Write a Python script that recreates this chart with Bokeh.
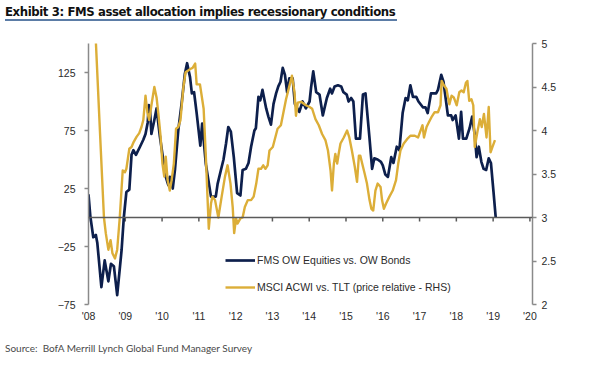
from bokeh.plotting import figure
from bokeh.models import (Range1d, LinearAxis, FixedTicker, Span, Legend, LegendItem,
                          ColumnDataSource, Div, CustomJSTickFormatter)
from bokeh.layouts import column
from bokeh.embed import file_html
from bokeh.resources import INLINE

# ---------------- data ----------------
fms_year = [
    2008.00, 2008.05, 2008.13, 2008.20, 2008.24, 2008.35, 2008.44, 2008.54, 2008.61, 2008.69, 2008.78, 2008.90, 2008.96,
    2009.03, 2009.11, 2009.17, 2009.22, 2009.29, 2009.40, 2009.49, 2009.55, 2009.61, 2009.64, 2009.67, 2009.71, 2009.79, 2009.85, 2009.94,
    2010.03, 2010.10, 2010.17, 2010.21, 2010.29, 2010.35, 2010.44, 2010.53, 2010.62, 2010.68, 2010.76, 2010.81, 2010.87, 2010.94,
    2011.04, 2011.09, 2011.19, 2011.33, 2011.46, 2011.51, 2011.60, 2011.67, 2011.74, 2011.80, 2011.87, 2011.95,
    2012.04, 2012.13, 2012.19, 2012.28, 2012.35, 2012.42, 2012.51, 2012.55, 2012.62, 2012.67, 2012.73, 2012.83, 2012.89, 2012.96,
    2013.03, 2013.10, 2013.16, 2013.22, 2013.28, 2013.34, 2013.40, 2013.46, 2013.55, 2013.61, 2013.73, 2013.82, 2013.91,
    2014.01, 2014.05, 2014.11, 2014.19, 2014.28, 2014.37, 2014.48, 2014.57, 2014.62, 2014.69, 2014.78, 2014.87, 2014.93,
    2015.02, 2015.07, 2015.14, 2015.20, 2015.27, 2015.38, 2015.46, 2015.53, 2015.64, 2015.71, 2015.77, 2015.86, 2015.95,
    2016.00, 2016.07, 2016.14, 2016.23, 2016.29, 2016.38, 2016.45, 2016.54, 2016.62, 2016.68, 2016.75, 2016.82, 2016.91, 2016.97,
    2017.09, 2017.16, 2017.22, 2017.31, 2017.45, 2017.50, 2017.59, 2017.65, 2017.77, 2017.86, 2017.90, 2017.98,
    2018.07, 2018.13, 2018.18, 2018.27, 2018.36, 2018.43, 2018.50, 2018.55, 2018.61, 2018.68, 2018.74, 2018.81, 2018.88, 2018.94,
    2019.01, 2019.07]
fms_value = [
    20, 1, -17, -15, -22, -60, -37, -55, -40, -42, -67, -28, 0,
    22, 24, 54, 58, 54, 61, 67, 72, 82, 97, 94, 72, 84, 94, 70,
    50, 35, 28, 35, 25, 41, 75, 98, 124, 133, 121, 107, 108, 90,
    62, 81, 46, 18, 18, 29, 41, 50, 64, 78, 74, 52,
    21, 19, 41, 42, 47, 61, 75, 77, 104, 101, 110, 94, 87, 80,
    98, 107, 113, 117, 129, 123, 108, 120, 120, 98, 91, 100, 94,
    100, 112, 126, 108, 106, 88, 103, 111, 107, 113, 114, 113, 108,
    106, 100, 103, 100, 68, 68, 106, 107, 68, 42, 51, 50, 48,
    45, 37, 35, 52, 47, 61, 58, 90, 103, 101, 114, 104, 104, 100,
    95, 95, 90, 107, 107, 110, 123, 117, 88, 88, 84, 88,
    68, 91, 68, 68, 77, 87, 71, 52, 61, 48, 42, 41, 51, 47,
    22, 0]

msci_year = [
    2008.17, 2008.31, 2008.42, 2008.47, 2008.54, 2008.60, 2008.65, 2008.72, 2008.78, 2008.85, 2008.93, 2008.99,
    2009.03, 2009.11, 2009.17, 2009.23, 2009.31, 2009.38, 2009.44, 2009.49, 2009.55, 2009.60, 2009.65, 2009.71, 2009.79, 2009.85, 2009.90, 2009.96,
    2010.01, 2010.06, 2010.10, 2010.15, 2010.21, 2010.26, 2010.32, 2010.38, 2010.44, 2010.50, 2010.58, 2010.64, 2010.71, 2010.78, 2010.83, 2010.90, 2010.94,
    2011.03, 2011.13, 2011.19, 2011.27, 2011.33, 2011.37, 2011.44, 2011.53, 2011.62, 2011.71, 2011.78, 2011.86, 2011.92, 2011.96,
    2012.01, 2012.05, 2012.13, 2012.19, 2012.25, 2012.33, 2012.42, 2012.49, 2012.56, 2012.62, 2012.69, 2012.75, 2012.81, 2012.87, 2012.92,
    2013.01, 2013.14, 2013.23, 2013.37, 2013.46, 2013.53, 2013.60, 2013.64, 2013.69, 2013.78, 2013.91,
    2014.01, 2014.08, 2014.17, 2014.26, 2014.35, 2014.44, 2014.51, 2014.58, 2014.62, 2014.67, 2014.71, 2014.76, 2014.80, 2014.85, 2014.94,
    2015.03, 2015.09, 2015.16, 2015.24, 2015.30, 2015.35, 2015.39, 2015.44, 2015.51, 2015.57, 2015.64, 2015.69, 2015.74, 2015.80, 2015.86, 2015.94, 2015.98,
    2016.03, 2016.09, 2016.18, 2016.27, 2016.36, 2016.42, 2016.48, 2016.57, 2016.66, 2016.75, 2016.87, 2016.96,
    2017.08, 2017.12, 2017.19, 2017.26, 2017.32, 2017.41, 2017.50, 2017.57, 2017.60, 2017.66, 2017.73, 2017.81, 2017.87, 2017.93,
    2018.01, 2018.08, 2018.14, 2018.20, 2018.26, 2018.30, 2018.35, 2018.41, 2018.46, 2018.50, 2018.57, 2018.64, 2018.69, 2018.75, 2018.82, 2018.88, 2018.93, 2018.98,
    2019.05]
msci_value = [
    5.30, 4.00, 3.00, 2.82, 2.63, 2.74, 2.59, 2.53, 2.63, 3.00, 3.54, 3.52,
    3.56, 3.79, 3.81, 3.87, 3.93, 3.97, 4.04, 4.12, 4.40, 4.21, 4.12, 4.29, 4.50, 4.38, 4.19, 3.93,
    3.62, 3.47, 3.70, 3.43, 3.31, 3.43, 3.62, 4.02, 4.04, 4.12, 4.50, 4.67, 4.69, 4.71, 4.72, 4.77, 4.53,
    4.53, 4.25, 3.70, 2.87, 3.16, 3.24, 3.20, 3.00, 3.24, 3.47, 3.60, 3.39, 3.12, 2.82,
    2.99, 2.93, 2.99, 3.00, 3.12, 3.20, 3.20, 3.24, 3.39, 3.56, 3.56, 3.60, 3.56, 3.60, 3.77,
    3.81, 4.02, 4.06, 4.36, 4.51, 4.63, 4.44, 4.17, 4.32, 4.33, 4.29,
    4.27, 4.25, 4.13, 4.06, 3.96, 3.89, 3.77, 3.54, 3.31, 3.62, 3.73, 3.62, 3.73, 3.85, 3.92,
    4.00, 3.92, 3.77, 3.58, 3.41, 3.71, 3.71, 3.62, 3.50, 3.39, 3.20, 3.10, 3.08, 3.31, 3.39, 3.35, 3.20,
    3.10, 3.16, 3.24, 3.31, 3.43, 3.62, 3.77, 3.85, 3.90, 3.94, 3.94, 3.92,
    4.06, 3.92, 4.04, 4.10, 4.15, 4.21, 4.21, 4.29, 4.57, 4.52, 4.48, 4.30, 4.40, 4.38,
    4.29, 4.44, 4.46, 4.44, 4.55, 4.57, 4.34, 4.36, 4.29, 3.81, 3.98, 4.13, 4.04, 4.19, 3.92, 4.27, 3.75, 3.81,
    3.89]

x_ticks = [2008, 2009, 2010, 2011, 2012, 2013, 2014, 2015, 2016, 2017, 2018, 2019, 2020]
x_tick_labels = ["'08", "'09", "'10", "'11", "'12", "'13", "'14", "'15", "'16", "'17", "'18", "'19", "'20"]
left_ticks = [-75, -25, 25, 75, 125]
right_ticks = [2, 2.5, 3, 3.5, 4, 4.5, 5]

title_text = "Exhibit 3: FMS asset allocation implies recessionary conditions"
source_text = "Source:&nbsp; BofA Merrill Lynch Global Fund Manager Survey"
fms_label = "FMS OW Equities vs. OW Bonds"
msci_label = "MSCI ACWI vs. TLT (price relative - RHS)"

NAVY = "#0d1f4c"
GOLD = "#dcae38"
AXIS = "#8a8a8a"
ZERO = "#5a5a5a"
TXT = "#2b2b2b"
FONT = "'Liberation Sans', Arial, sans-serif"

# ---------------- figure ----------------
p = figure(width=581, height=309, x_range=Range1d(2008, 2020.07), y_range=Range1d(-75, 150),
           output_backend="svg", toolbar_location=None, title=None,
           min_border_left=88, min_border_right=49, min_border_top=17, min_border_bottom=31,
           x_axis_location="below", y_axis_location="left")
p.outline_line_color = None
p.grid.visible = False
p.background_fill_color = "white"
p.border_fill_color = "white"
p.extra_y_ranges = {"rhs": Range1d(2, 5)}

# left axis
ya = p.yaxis[0]
ya.ticker = FixedTicker(ticks=left_ticks)
ya.axis_line_color = AXIS
ya.axis_line_width = 1.5
ya.major_tick_line_color = AXIS
ya.major_tick_line_width = 1.5
ya.major_tick_out = 4
ya.major_tick_in = 0
ya.minor_tick_line_color = None
ya.major_label_standoff = 9
ya.major_label_text_font = FONT
ya.major_label_text_font_size = "10.5px"
ya.major_label_text_color = TXT

# right axis
ra = LinearAxis(y_range_name="rhs", ticker=FixedTicker(ticks=right_ticks),
                formatter=CustomJSTickFormatter(code="return String(tick);"))
ra.axis_line_color = AXIS
ra.axis_line_width = 1.5
ra.major_tick_line_color = AXIS
ra.major_tick_line_width = 1.5
ra.major_tick_out = 4
ra.major_tick_in = 0
ra.minor_tick_line_color = None
ra.major_label_standoff = 5
ra.major_label_text_font = FONT
ra.major_label_text_font_size = "10.5px"
ra.major_label_text_color = TXT
p.add_layout(ra, "right")

# bottom axis: labels only (the axis line sits on the zero line)
xa = p.xaxis[0]
xa.ticker = FixedTicker(ticks=x_ticks)
xa.major_label_overrides = {t: l for t, l in zip(x_ticks, x_tick_labels)}
xa.axis_line_color = None
xa.major_tick_line_color = None
xa.major_tick_out = 0
xa.major_tick_in = 0
xa.minor_tick_line_color = None
xa.minor_tick_out = 0
xa.major_label_standoff = 5
xa.major_label_text_font = FONT
xa.major_label_text_font_size = "10.5px"
xa.major_label_text_color = TXT

# zero line with ticks
p.add_layout(Span(location=0, dimension="width", line_color=ZERO, line_width=1.5))
tick_src = ColumnDataSource(dict(x=x_ticks, y0=[0] * len(x_ticks), y1=[-3.5] * len(x_ticks)))
p.segment(x0="x", y0="y0", x1="x", y1="y1", source=tick_src, line_color=ZERO, line_width=1.5)

# series
fms_src = ColumnDataSource(dict(x=fms_year, y=fms_value))
msci_src = ColumnDataSource(dict(x=msci_year, y=msci_value))
r_fms = p.line("x", "y", source=fms_src, line_color=NAVY, line_width=2.7, line_join="round")
r_msci = p.line("x", "y", source=msci_src, line_color=GOLD, line_width=2.4, line_join="round",
                y_range_name="rhs")

legend = Legend(items=[LegendItem(label=fms_label, renderers=[r_fms]),
                       LegendItem(label=msci_label, renderers=[r_msci])],
                location=(137, 7), orientation="vertical",
                padding=0, margin=0, spacing=7, glyph_width=30, glyph_height=20,
                label_standoff=2, border_line_color=None, background_fill_alpha=0,
                label_text_font=FONT, label_text_font_size="10.5px", label_text_color=TXT)
p.add_layout(legend)

title_div = Div(text=title_text, width=392, height=16,
                styles={"font-family": "'Liberation Sans Narrow', 'DejaVu Sans Condensed', sans-serif",
                        "font-weight": "bold", "font-size": "13px", "line-height": "13px",
                        "letter-spacing": "-0.4px",
                        "color": "#111111", "border-bottom": "2px solid #5b7ca6",
                        "white-space": "nowrap", "box-sizing": "border-box"})
source_div = Div(text=source_text, width=400, height=16,
                 styles={"font-family": "Lato, 'Liberation Sans', sans-serif", "font-size": "10px",
                         "line-height": "16px", "color": "#4a4a4a", "white-space": "nowrap"})

layout = column(title_div, p, source_div, spacing=0)
open("out.html", "w").write(file_html(layout, INLINE))
